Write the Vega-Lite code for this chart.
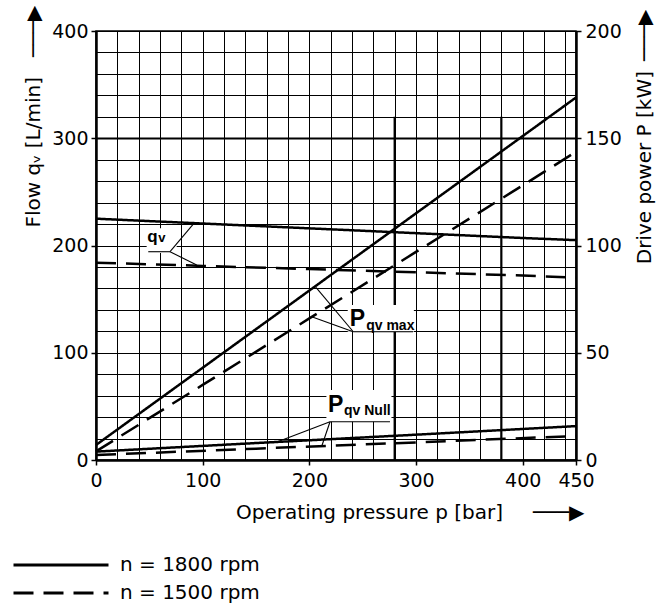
{
  "$schema": "https://vega.github.io/schema/vega-lite/v6.json",
  "width": 480,
  "height": 429,
  "autosize": {"type": "none"},
  "padding": {"left": 96, "top": 31, "right": 94, "bottom": 150},
  "background": "white",
  "config": {
    "font": "DejaVu Sans",
    "view": {"stroke": "black", "strokeWidth": 1.5},
    "axis": {
      "labelFont": "DejaVu Sans",
      "titleFont": "DejaVu Sans",
      "labelFontSize": 19,
      "titleFontSize": 20,
      "titleFontWeight": "normal",
      "labelColor": "black",
      "titleColor": "black",
      "tickColor": "black",
      "domainColor": "black",
      "gridColor": "#000000",
      "gridOpacity": 1,
      "tickSize": 5,
      "tickWidth": 1.5,
      "domainWidth": 2.5
    }
  },
  "datasets": {
    "flow": [
      {"curve": "qv", "n": "n = 1800 rpm", "p": 0, "q": 225},
      {"curve": "qv", "n": "n = 1800 rpm", "p": 100, "q": 220.5},
      {"curve": "qv", "n": "n = 1800 rpm", "p": 200, "q": 216},
      {"curve": "qv", "n": "n = 1800 rpm", "p": 300, "q": 211.5},
      {"curve": "qv", "n": "n = 1800 rpm", "p": 400, "q": 207},
      {"curve": "qv", "n": "n = 1800 rpm", "p": 450, "q": 205},
      {"curve": "qv", "n": "n = 1500 rpm", "p": 0, "q": 184},
      {"curve": "qv", "n": "n = 1500 rpm", "p": 100, "q": 181},
      {"curve": "qv", "n": "n = 1500 rpm", "p": 200, "q": 178},
      {"curve": "qv", "n": "n = 1500 rpm", "p": 300, "q": 175},
      {"curve": "qv", "n": "n = 1500 rpm", "p": 400, "q": 172},
      {"curve": "qv", "n": "n = 1500 rpm", "p": 450, "q": 170}
    ],
    "power": [
      {"curve": "Pmax", "n": "n = 1800 rpm", "p": 0, "kw": 7},
      {"curve": "Pmax", "n": "n = 1800 rpm", "p": 100, "kw": 43},
      {"curve": "Pmax", "n": "n = 1800 rpm", "p": 200, "kw": 79},
      {"curve": "Pmax", "n": "n = 1800 rpm", "p": 300, "kw": 115},
      {"curve": "Pmax", "n": "n = 1800 rpm", "p": 400, "kw": 151},
      {"curve": "Pmax", "n": "n = 1800 rpm", "p": 450, "kw": 169},
      {"curve": "Pmax", "n": "n = 1500 rpm", "p": 0, "kw": 4},
      {"curve": "Pmax", "n": "n = 1500 rpm", "p": 100, "kw": 35},
      {"curve": "Pmax", "n": "n = 1500 rpm", "p": 200, "kw": 66},
      {"curve": "Pmax", "n": "n = 1500 rpm", "p": 300, "kw": 97},
      {"curve": "Pmax", "n": "n = 1500 rpm", "p": 400, "kw": 128},
      {"curve": "Pmax", "n": "n = 1500 rpm", "p": 450, "kw": 143.7},
      {"curve": "PNull", "n": "n = 1800 rpm", "p": 0, "kw": 3.9},
      {"curve": "PNull", "n": "n = 1800 rpm", "p": 150, "kw": 7.9},
      {"curve": "PNull", "n": "n = 1800 rpm", "p": 300, "kw": 11.8},
      {"curve": "PNull", "n": "n = 1800 rpm", "p": 450, "kw": 15.8},
      {"curve": "PNull", "n": "n = 1500 rpm", "p": 0, "kw": 2.3},
      {"curve": "PNull", "n": "n = 1500 rpm", "p": 150, "kw": 5.3},
      {"curve": "PNull", "n": "n = 1500 rpm", "p": 300, "kw": 8.2},
      {"curve": "PNull", "n": "n = 1500 rpm", "p": 450, "kw": 11.2}
    ],
    "thick": [
      {"p": 280, "q": 0, "q2": 320},
      {"p": 380, "q": 0, "q2": 320}
    ],
    "flowBox": [
      {"p": 47.5, "p2": 75.6, "q": 193, "q2": 216}
    ],
    "flowRules": [
      {"p": 49, "q": 194.2, "p2": 69.4, "q2": 194.2},
      {"p": 69.4, "q": 194.2, "p2": 91.2, "q2": 220},
      {"p": 69.4, "q": 194.2, "p2": 94.4, "q2": 181.8}
    ],
    "flowBig": [{"p": 48.1, "q": 203.3, "t": "q"}],
    "flowSmall": [{"p": 58.3, "q": 202.8, "t": "v"}],
    "powerBox": [
      {"p": 236, "p2": 298, "kw": 59.8, "kw2": 72.3},
      {"p": 216, "p2": 277, "kw": 17.85, "kw2": 32.6}
    ],
    "powerRules": [
      {"p": 241.2, "kw": 59.8, "p2": 297.2, "kw2": 59.8},
      {"p": 241.2, "kw": 59.8, "p2": 206.2, "kw2": 80.5},
      {"p": 241.2, "kw": 59.8, "p2": 202.2, "kw2": 66.8},
      {"p": 219.4, "kw": 17.85, "p2": 275.6, "kw2": 17.85},
      {"p": 219.4, "kw": 17.85, "p2": 170.9, "kw2": 8.6},
      {"p": 219.4, "kw": 17.85, "p2": 211.6, "kw2": 6.4}
    ],
    "powerBig": [
      {"p": 238, "kw": 62.5, "t": "P"},
      {"p": 217.5, "kw": 22.2, "t": "P"}
    ],
    "powerSmall": [
      {"p": 253.3, "kw": 60.6, "t": "qv max"},
      {"p": 232.5, "kw": 21, "t": "qv Null"}
    ]
  },
  "layer": [
    {
      "layer": [
        {
          "data": {"name": "thick"},
          "mark": {"type": "rule", "strokeWidth": 2.2, "color": "black"},
          "encoding": {
            "x": {"field": "p", "type": "quantitative", "scale": {"domain": [0, 450], "nice": false}},
            "y": {"field": "q", "type": "quantitative", "scale": {"domain": [0, 400], "nice": false}},
            "y2": {"field": "q2"}
          }
        },
        {
          "data": {"name": "flowBox"},
          "mark": {"type": "rect", "fill": "white", "strokeWidth": 0},
          "encoding": {
            "x": {"field": "p", "type": "quantitative", "scale": {"domain": [0, 450], "nice": false}},
            "x2": {"field": "p2"},
            "y": {"field": "q", "type": "quantitative", "scale": {"domain": [0, 400], "nice": false}},
            "y2": {"field": "q2"}
          }
        },
        {
          "data": {"name": "flow"},
          "mark": {"type": "line", "strokeWidth": 2.5, "color": "black"},
          "encoding": {
            "x": {
              "field": "p", "type": "quantitative",
              "scale": {"domain": [0, 450], "nice": false},
              "axis": {
                "values": [0, 20, 40, 60, 80, 100, 120, 140, 160, 180, 200, 220, 240, 260, 280, 300, 320, 340, 360, 380, 400, 420, 440, 450],
                "tickCount": 100,
                "labelExpr": "datum.value % 100 === 0 || datum.value === 450 ? datum.label : ''",
                "labelFlush": false,
                "labelOverlap": false,
                "labelPadding": 6,
                "tickOpacity": {"condition": {"test": "datum.value % 100 === 0 || datum.value === 450", "value": 1}, "value": 0},
                "gridWidth": 1,
                "title": "Operating pressure p [bar]\u2002\u2002\u2002───▶",
                "titleAlign": "right",
                "titleBaseline": "alphabetic",
                "titleX": 488,
                "titleY": 58
              }
            },
            "y": {
              "field": "q", "type": "quantitative",
              "scale": {"domain": [0, 400], "nice": false},
              "axis": {
                "values": [0, 20, 40, 60, 80, 100, 120, 140, 160, 180, 200, 220, 240, 260, 280, 300, 320, 340, 360, 380, 400],
                "tickCount": 100,
                "labelExpr": "datum.value % 100 === 0 ? datum.label : ''",
                "labelOverlap": false,
                "labelPadding": 3,
                "tickOpacity": {"condition": {"test": "datum.value % 100 === 0", "value": 1}, "value": 0},
                "gridWidth": {"condition": {"test": "datum.value === 300", "value": 2.2}, "value": 1},
                "title": "Flow q\u1d65 [L/min]\u2002\u2002───▶",
                "titleAngle": -90,
                "titleAlign": "right",
                "titleBaseline": "alphabetic",
                "titleX": -57,
                "titleY": -26
              }
            },
            "strokeDash": {
              "field": "n", "type": "nominal",
              "scale": {"domain": ["n = 1800 rpm", "n = 1500 rpm"], "range": [[1, 0], [20, 10]]},
              "legend": {
                "orient": "none",
                "legendX": -84,
                "legendY": 522,
                "title": null,
                "symbolType": "stroke",
                "symbolSize": 9025,
                "symbolStrokeWidth": 3,
                "symbolStrokeColor": "black",
                "clipHeight": 24,
                "rowPadding": 4,
                "labelFontSize": 20,
                "labelFont": "DejaVu Sans",
                "labelColor": "black",
                "labelOffset": 10,
                "padding": 0
              }
            }
          }
        },
        {
          "data": {"name": "flowRules"},
          "mark": {"type": "rule", "strokeWidth": 1.1, "color": "black"},
          "encoding": {
            "x": {"field": "p", "type": "quantitative", "scale": {"domain": [0, 450], "nice": false}},
            "x2": {"field": "p2"},
            "y": {"field": "q", "type": "quantitative", "scale": {"domain": [0, 400], "nice": false}},
            "y2": {"field": "q2"}
          }
        },
        {
          "data": {"name": "flowBig"},
          "mark": {"type": "text", "font": "Liberation Sans", "fontWeight": "bold", "fontSize": 17, "align": "left", "baseline": "alphabetic", "color": "black"},
          "encoding": {
            "x": {"field": "p", "type": "quantitative", "scale": {"domain": [0, 450], "nice": false}},
            "y": {"field": "q", "type": "quantitative", "scale": {"domain": [0, 400], "nice": false}},
            "text": {"field": "t"}
          }
        },
        {
          "data": {"name": "flowSmall"},
          "mark": {"type": "text", "font": "Liberation Sans", "fontWeight": "bold", "fontSize": 13, "align": "left", "baseline": "alphabetic", "color": "black"},
          "encoding": {
            "x": {"field": "p", "type": "quantitative", "scale": {"domain": [0, 450], "nice": false}},
            "y": {"field": "q", "type": "quantitative", "scale": {"domain": [0, 400], "nice": false}},
            "text": {"field": "t"}
          }
        }
      ]
    },
    {
      "layer": [
        {
          "data": {"name": "powerBox"},
          "mark": {"type": "rect", "fill": "white", "strokeWidth": 0},
          "encoding": {
            "x": {"field": "p", "type": "quantitative", "scale": {"domain": [0, 450], "nice": false}},
            "x2": {"field": "p2"},
            "y": {
              "field": "kw", "type": "quantitative",
              "scale": {"domain": [0, 200], "nice": false},
              "axis": {
                "orient": "right",
                "values": [0, 50, 100, 150, 200],
                "tickCount": 100,
                "grid": false,
                "labelPadding": 4,
                "title": "Drive power P [kW]\u2002───▶",
                "titleAngle": -90,
                "titleAlign": "right",
                "titleBaseline": "alphabetic",
                "titleX": 74,
                "titleY": -22
              }
            },
            "y2": {"field": "kw2"}
          }
        },
        {
          "data": {"name": "power"},
          "mark": {"type": "line", "strokeWidth": 2.5, "color": "black"},
          "encoding": {
            "x": {"field": "p", "type": "quantitative", "scale": {"domain": [0, 450], "nice": false}},
            "y": {"field": "kw", "type": "quantitative", "scale": {"domain": [0, 200], "nice": false}},
            "detail": {"field": "curve"},
            "strokeDash": {
              "field": "n", "type": "nominal",
              "scale": {"domain": ["n = 1800 rpm", "n = 1500 rpm"], "range": [[1, 0], [20, 10]]}
            }
          }
        },
        {
          "data": {"name": "powerRules"},
          "mark": {"type": "rule", "strokeWidth": 1.1, "color": "black"},
          "encoding": {
            "x": {"field": "p", "type": "quantitative", "scale": {"domain": [0, 450], "nice": false}},
            "x2": {"field": "p2"},
            "y": {"field": "kw", "type": "quantitative", "scale": {"domain": [0, 200], "nice": false}},
            "y2": {"field": "kw2"}
          }
        },
        {
          "data": {"name": "powerBig"},
          "mark": {"type": "text", "font": "Liberation Sans", "fontWeight": "bold", "fontSize": 23, "align": "left", "baseline": "alphabetic", "color": "black"},
          "encoding": {
            "x": {"field": "p", "type": "quantitative", "scale": {"domain": [0, 450], "nice": false}},
            "y": {"field": "kw", "type": "quantitative", "scale": {"domain": [0, 200], "nice": false}},
            "text": {"field": "t"}
          }
        },
        {
          "data": {"name": "powerSmall"},
          "mark": {"type": "text", "font": "Liberation Sans", "fontWeight": "bold", "fontSize": 14, "align": "left", "baseline": "alphabetic", "color": "black"},
          "encoding": {
            "x": {"field": "p", "type": "quantitative", "scale": {"domain": [0, 450], "nice": false}},
            "y": {"field": "kw", "type": "quantitative", "scale": {"domain": [0, 200], "nice": false}},
            "text": {"field": "t"}
          }
        }
      ]
    }
  ],
  "resolve": {"scale": {"y": "independent"}}
}
